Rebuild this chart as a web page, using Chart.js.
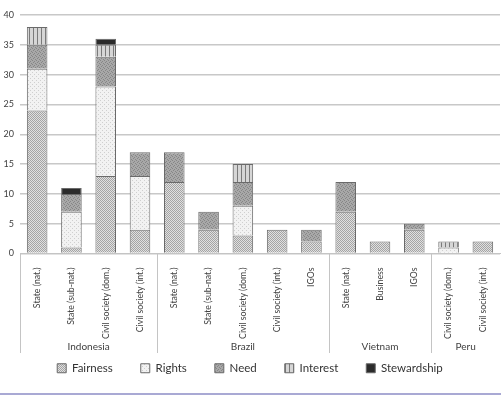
<!DOCTYPE html>
<html lang="en">
  <head>
    <meta charset="UTF-8" />
    <title>Justice claims by actor</title>
    <script src="https://cdn.jsdelivr.net/npm/chart.js"></script>
    <style>
      html, body { margin: 0; padding: 0; background: #ffffff; }
      .wrap {
        width: 501px;
        height: 393px;
        border-bottom: 2px solid #a9a9d4;
      }
    </style>
  </head>
  <body>
    <div class="wrap"><canvas id="chart" width="501" height="393"></canvas></div>
    <script>
      // categories and their country groups
      const categories = [
        "State (nat.)", "State (sub-nat.)", "Civil society (dom.)", "Civil society (int.)",
        "State (nat.)", "State (sub-nat.)", "Civil society (dom.)", "Civil society (int.)", "IGOs",
        "State (nat.)", "Business", "IGOs",
        "Civil society (dom.)", "Civil society (int.)"
      ];
      const groups = ["Indonesia", "Brazil", "Vietnam", "Peru"];
      const groupSizes = [4, 5, 3, 2];

      // series values
      const fairness    = [24, 1, 13, 4, 12, 4, 3, 4, 2, 7, 2, 4, 0, 2];
      const rights      = [7, 6, 15, 9, 0, 0, 5, 0, 0, 0, 0, 0, 1, 0];
      const need        = [4, 3, 5, 4, 5, 3, 4, 0, 2, 5, 0, 1, 0, 0];
      const interest    = [3, 0, 2, 0, 0, 0, 3, 0, 0, 0, 0, 0, 1, 0];
      const stewardship = [0, 1, 1, 0, 0, 0, 0, 0, 0, 0, 0, 0, 0, 0];

      const yTicks = [0, 5, 10, 15, 20, 25, 30, 35, 40];

      // little canvas patterns, grey like the print version
      function makePattern(size, draw) {
        const c = document.createElement("canvas");
        c.width = size;
        c.height = size;
        draw(c.getContext("2d"));
        return c.getContext("2d").createPattern(c, "repeat");
      }
      const patFairness = makePattern(4, (g) => {
        g.fillStyle = "#e0e0e0"; g.fillRect(0, 0, 4, 4);
        g.fillStyle = "#a4a4a4";
        g.fillRect(0, 0, 1, 1); g.fillRect(2, 0, 1, 1);
        g.fillRect(1, 1, 1, 1); g.fillRect(3, 1, 1, 1);
        g.fillRect(0, 2, 1, 1); g.fillRect(2, 2, 1, 1);
        g.fillRect(1, 3, 1, 1); g.fillRect(3, 3, 1, 1);
      });
      const patRights = makePattern(4, (g) => {
        g.fillStyle = "#f2f2f2"; g.fillRect(0, 0, 4, 4);
        g.fillStyle = "#cfcfcf";
        g.fillRect(0, 0, 1, 1); g.fillRect(2, 2, 1, 1);
      });
      const patNeed = makePattern(4, (g) => {
        g.fillStyle = "#a8a8a8"; g.fillRect(0, 0, 4, 4);
        g.fillStyle = "#868686";
        g.fillRect(0, 0, 1, 1); g.fillRect(2, 1, 1, 1);
        g.fillRect(1, 2, 1, 1); g.fillRect(3, 3, 1, 1);
      });
      const patInterest = makePattern(4, (g) => {
        g.fillStyle = "#d6d6d6"; g.fillRect(0, 0, 4, 4);
        g.fillStyle = "#7a7a7a"; g.fillRect(1, 0, 1, 4);
      });

      // country names under the tick labels, plus separators
      const groupAxis = {
        id: "groupAxis",
        afterDraw(chart) {
          const ctx = chart.ctx;
          const x = chart.scales.x;
          const top = chart.chartArea.bottom;
          const bottom = 353;
          const edges = [chart.chartArea.left];
          let idx = 0;
          groupSizes.forEach((n) => {
            idx += n;
            if (idx < categories.length) {
              edges.push((x.getPixelForValue(idx - 1) + x.getPixelForValue(idx)) / 2);
            } else {
              edges.push(chart.chartArea.right);
            }
          });
          ctx.save();
          ctx.strokeStyle = "#c4c4c4";
          ctx.lineWidth = 1;
          edges.slice(0, -1).forEach((ex) => {
            ctx.beginPath();
            ctx.moveTo(Math.round(ex) + 0.5, top);
            ctx.lineTo(Math.round(ex) + 0.5, bottom);
            ctx.stroke();
          });
          ctx.fillStyle = "#404040";
          ctx.font = "10px Lato";
          ctx.textAlign = "center";
          ctx.textBaseline = "middle";
          groups.forEach((name, i) => {
            ctx.fillText(name, (edges[i] + edges[i + 1]) / 2, 347);
          });
          ctx.restore();
        },
      };

      const ds = (label, data, bg) => ({
        label: label,
        data: data,
        backgroundColor: bg,
        borderColor: "#6a6a6a",
        borderWidth: 1,
        barPercentage: 0.6,
        categoryPercentage: 1,
      });

      new Chart(document.getElementById("chart"), {
        type: "bar",
        data: {
          labels: categories,
          datasets: [
            ds("Fairness", fairness, patFairness),
            ds("Rights", rights, patRights),
            ds("Need", need, patNeed),
            ds("Interest", interest, patInterest),
            ds("Stewardship", stewardship, "#2b2b2b"),
          ],
        },
        options: {
          responsive: false,
          animation: false,
          layout: { padding: { top: 15, right: 1, left: 0, bottom: 9 } },
          plugins: {
            tooltip: { enabled: false },
            legend: {
              position: "bottom",
              labels: {
                boxWidth: 9,
                boxHeight: 9,
                padding: 28,
                color: "#333333",
                font: { family: "Lato", size: 11.5 },
              },
            },
          },
          scales: {
            x: {
              stacked: true,
              grid: { display: false },
              border: { color: "#c4c4c4", width: 1 },
              ticks: {
                autoSkip: false,
                minRotation: 90,
                maxRotation: 90,
                padding: 6,
                color: "#404040",
                font: { family: "Lato", size: 8.7 },
              },
              afterFit(scale) {
                scale.height = 81;
                // labels run a little past the box, into the legend's top padding
                scale._computeLabelArea = () => undefined;
              },
            },
            y: {
              stacked: true,
              min: 0,
              max: 40,
              afterBuildTicks(scale) { scale.ticks = yTicks.map((v) => ({ value: v })); },
              border: { display: false },
              grid: { color: "#c8c8c8", lineWidth: 1.5, drawTicks: false },
              ticks: {
                padding: 6,
                color: "#404040",
                font: { family: "Lato", size: 9 },
              },
              afterFit(scale) { scale.width = 20; },
            },
          },
        },
        plugins: [groupAxis],
      });
    </script>
  </body>
</html>
